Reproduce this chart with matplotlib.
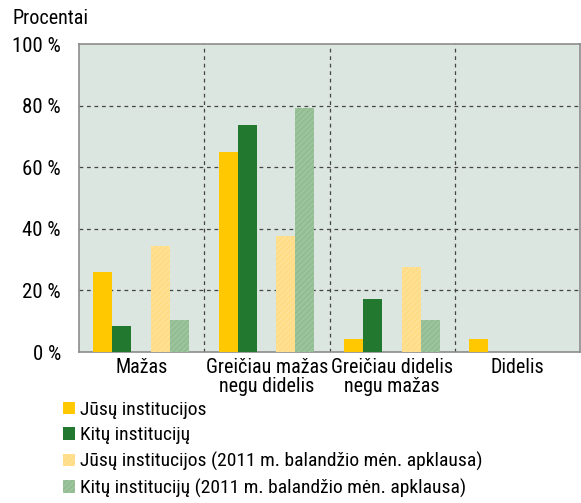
import numpy as np
import matplotlib.pyplot as plt
from matplotlib.patches import Patch

plt.rcParams["font.family"] = ["Roboto Condensed", "Liberation Sans", "DejaVu Sans"]
plt.rcParams["hatch.linewidth"] = 0.6

categories = ["Mažas", "Greičiau mažas\nnegu didelis", "Greičiau didelis\nnegu mažas", "Didelis"]
series = [
    "Jūsų institucijos",
    "Kitų institucijų",
    "Jūsų institucijos (2011 m. balandžio mėn. apklausa)",
    "Kitų institucijų (2011 m. balandžio mėn. apklausa)",
]
jusu = [26.0, 65.0, 4.2, 4.2]
kitu = [8.5, 73.7, 17.2, 0.0]
jusu_2011 = [34.5, 37.7, 27.6, 0.0]
kitu_2011 = [10.3, 79.2, 10.3, 0.0]
yticks = [0, 20, 40, 60, 80, 100]

values = [jusu, kitu, jusu_2011, kitu_2011]
colors = ["#FFC800", "#22782F", "#FFDC85", "#93BD93"]
hatch_colors = [None, None, "#FFE7A6", "#A9CBA9"]
offsets = [-0.31, -0.158, 0.152, 0.304]
width = 0.152

fig = plt.figure(figsize=(5.81, 5.03), dpi=100)
ax = fig.add_axes([79 / 581, 151 / 503, 501 / 581, 308 / 503])
ax.set_facecolor("#DCE6E0")

x = np.arange(len(categories))
handles = []
for vals, col, hc, off, lab in zip(values, colors, hatch_colors, offsets, series):
    if hc is None:
        ax.bar(x + off, vals, width, color=col, linewidth=0, zorder=3)
        handles.append(Patch(facecolor=col, edgecolor="none", label=lab))
    else:
        ax.bar(x + off, vals, width, color=col, edgecolor=hc, hatch="//////", linewidth=0, zorder=3)
        handles.append(Patch(facecolor=col, edgecolor=hc, hatch="//////", linewidth=0, label=lab))

ax.set_xlim(-0.5, 3.5)
ax.set_ylim(0, 100)
ax.set_yticks(yticks)
ax.set_yticklabels([f"{v} %" for v in yticks], fontsize=15)
ax.set_xticks(x)
ax.set_xticklabels(categories, fontsize=14.5, linespacing=1.05)
ax.tick_params(length=0)
ax.tick_params(axis="y", pad=13)
ax.tick_params(axis="x", pad=4)

for v in yticks[1:-1]:
    ax.axhline(v, color="#444444", linestyle=(0, (3, 3)), linewidth=0.9, zorder=1)
for b in [0.5, 1.5, 2.5]:
    ax.axvline(b, color="#444444", linestyle=(0, (3, 3)), linewidth=0.9, zorder=1)

for s in ax.spines.values():
    s.set_color("#8C8C8C")
    s.set_linewidth(1.2)

fig.text(12 / 581, 1 - 18 / 503, "Procentai", fontsize=14.5, va="center", ha="left")

fig.legend(
    handles=handles,
    loc="upper left",
    bbox_to_anchor=(63 / 581, 1 - 401 / 503),
    frameon=False,
    fontsize=14,
    handlelength=0.6,
    handleheight=0.6,
    handletextpad=0.3,
    labelspacing=0.38,
    borderaxespad=0,
    borderpad=0,
)

fig.savefig("out.png", dpi=100)
